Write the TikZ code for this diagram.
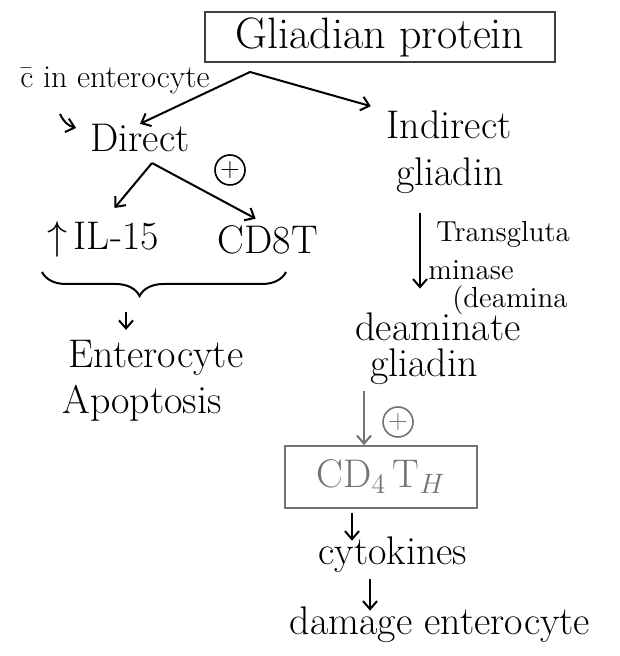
\RequirePackage{fix-cm}
\documentclass[tikz,border=0pt]{standalone}
\usepackage{fontspec}
\usetikzlibrary{decorations.pathreplacing,arrows.meta}

\tikzstyle{titlebox} = [rectangle, draw=black!75, line width=0.9pt, font=\fontsize{22}{24}\selectfont,
minimum width=175pt, minimum height=25pt, inner sep=2pt]
\tikzstyle{word} = [font=\fontsize{20}{22}\selectfont, inner sep=0pt]
\tikzstyle{smallword} = [font=\fontsize{16}{18}\selectfont, inner sep=1pt]
\tikzstyle{note} = [font=\fontsize{14.5}{16}\selectfont, inner sep=1pt, anchor=west]
\tikzstyle{plus} = [circle, draw, line width=0.8pt, minimum size=15pt, inner sep=0pt, font=\fontsize{13}{14}\selectfont]
\tikzstyle{cellbox} = [rectangle, draw, line width=0.9pt, minimum width=96pt, minimum height=31pt, font=\fontsize{20}{22}\selectfont]
\tikzstyle{faint} = [black!55, text=black!55]
\tikzstyle{arrow} = [line width=1pt,->,>={Straight Barb[length=4pt,width=7pt]},draw]

\begin{document}
\begin{tikzpicture}[x=0.5pt, y=-0.5pt]
	\useasboundingbox (0,0) rectangle (619,656);
	%nodes at the top
	\node[titlebox](gliadian) at (380,37){Gliadian protein};
	\coordinate (split) at (250,72);
	\node[smallword](cin) at (115,80){\=c in enterocyte};
	%nodes for Direct
	\node[word](direct) at (140,138){Direct};
	\node[plus](plusA) at (230,170){+};
	\coordinate (forkA) at (152,163);
	\node[word](il) at (103,240){$\uparrow$\,IL-15};
	\node[word](cdeight) at (268,240){CD8T};
	\coordinate (braceL) at (42,272);
	\coordinate (braceR) at (286,272);
	\coordinate (bracetip) at (126,312);
	\node[word](entero) at (156,358){Enterocyte};
	\node[word](apop) at (142,403){Apoptosis};
	%nodes for Indirect
	\node[word](indirect) at (449,125){Indirect};
	\node[word](gliadin) at (450,176){gliadin};
	\coordinate (tgtop) at (420,213);
	\node[note](tgA) at (434,234){Transgluta};
	\node[note](tgB) at (426,270){minase};
	\node[note](tgC) at (450,300){(deamina};
	\node[word](deam) at (438,327){deaminate};
	\node[word](deamgli) at (424,367){gliadin};
	\node[plus, faint](plusB) at (398,422){+};
	\node[cellbox, faint](cdfour) at (381,477){CD$_4$\,T$_H$};
	\node[word](cyto) at (393,555){cytokines};
	\node[word](damage) at (440,625){damage enterocyte};

	%edges
	\path[arrow] (split) -- (direct.north);
	\path[arrow, shorten >=8pt] (split) -- (indirect.north west);
	\draw[arrow] ([xshift=-27.5pt,yshift=-9pt]cin.south) to[bend right=25] ([xshift=-7pt,yshift=5pt]direct.west);
	\path[arrow, shorten >=9pt] (forkA) -- (il.north);
	\path[arrow, shorten >=7pt] (forkA) -- (cdeight.north);
	\draw[line width=1pt, decorate, decoration={brace, mirror, amplitude=12pt, aspect=0.4}] (braceL) -- (braceR);
	\path[arrow, shorten >=5pt] (bracetip) -- (bracetip |- entero.north);
	\path[arrow, shorten >=12pt] (tgtop) -- (tgtop |- deam.north);
	\path[arrow, faint] ([xshift=-30pt,yshift=-3pt]deamgli.south) -- ([xshift=-8.5pt]cdfour.north);
	\path[arrow] ([xshift=-14.5pt,yshift=-2pt]cdfour.south) -- ([xshift=-20.5pt,yshift=-2pt]cyto.north);
	\path[arrow] ([xshift=-11.5pt,yshift=-3pt]cyto.south) -- ([xshift=-35pt,yshift=-2pt]damage.north);
\end{tikzpicture}
\end{document}
